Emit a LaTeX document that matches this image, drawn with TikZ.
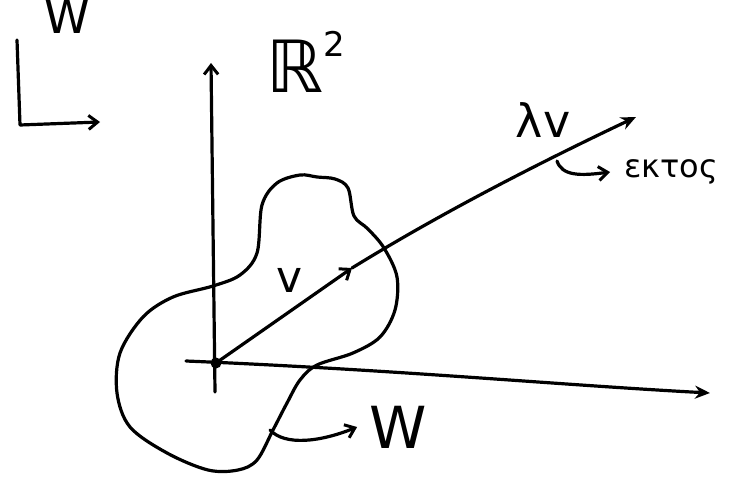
\documentclass[tikz,border=0pt]{standalone}
\usepackage{fontspec}
\setmainfont{DejaVu Sans}
\usetikzlibrary{arrows.meta}
\tikzset{
  pen/.style={line width=3.2pt, line cap=round, line join=round},
  barb/.style={-{Straight Barb[length=9pt,width=14pt,line width=3pt]}},
  solidtip/.style={-{Stealth[length=15pt,width=13pt]}},
  lbl/.style={inner sep=0pt, font=\fontsize{#1}{#1}\selectfont}
}
\begin{document}
\begin{tikzpicture}[x=1pt,y=-1pt]
\useasboundingbox (0,0) rectangle (739,484);
\clip (0,0) rectangle (739,484);
% coordinates
\coordinate (O) at (216,363);
\coordinate (ybot) at (215,392);
\coordinate (ytop) at (211,63);
\coordinate (xleft) at (186,361);
\coordinate (xright) at (710,393);
\coordinate (vtip) at (352,268);
\coordinate (lvtip) at (636,117);
% blob W
\draw[pen] plot[smooth cycle, tension=0.55] coordinates {
 (213,286) (240,275) (257,253) (262,205) (277,183) (300,175) (317,177) (335,179)
 (348,188) (354,216) (368,229) (384,248) (397,277) (395,310) (380,337) (353,353)
 (317,365) (300,380) (287,403) (273,430) (257,460) (238,470) (208,470) (167,453)
 (130,427) (117,393) (120,353) (143,317) (173,297)};
% axes
\draw[pen, barb] (ybot) -- (ytop);
\draw[pen, solidtip] (xleft) .. controls (400,370) and (560,385) .. (xright);
% vectors
\draw[pen, barb] (O) -- (vtip);
\draw[pen, solidtip] (vtip) .. controls (430,220) and (520,172) .. (lvtip);
\fill (O) circle (5.5);
% labels
\node[lbl=72] (R2) at (306,62) {ℝ\raisebox{0.5em}{\fontsize{34}{34}\selectfont 2}};
\node[lbl=44] (v) at (290,280) {v};
\node[lbl=46] (lv) at (543,120) {λv};
\node[lbl=32, anchor=west] (ektos) at (624,172) {εκτος};
\node[lbl=58] (Wb) at (398,427) {W};
\node[lbl=46, anchor=south] (Wt) at (67,34) {W};
% hook arrows
\coordinate (hk1) at (557,161);
\draw[pen, barb] (hk1) .. controls (562,176) and (580,176) .. ([xshift=-14pt]ektos.west);
\coordinate (hk2) at (270,430);
\draw[pen, barb] (hk2) .. controls (285,446) and (320,442) .. ([xshift=-12pt]Wb.west);
\coordinate (L1) at (17,40);
\coordinate (L2) at (20,125);
\coordinate (L3) at (100,122);
\draw[pen, barb] (L1) -- (L2) -- (L3);
\end{tikzpicture}
\end{document}
